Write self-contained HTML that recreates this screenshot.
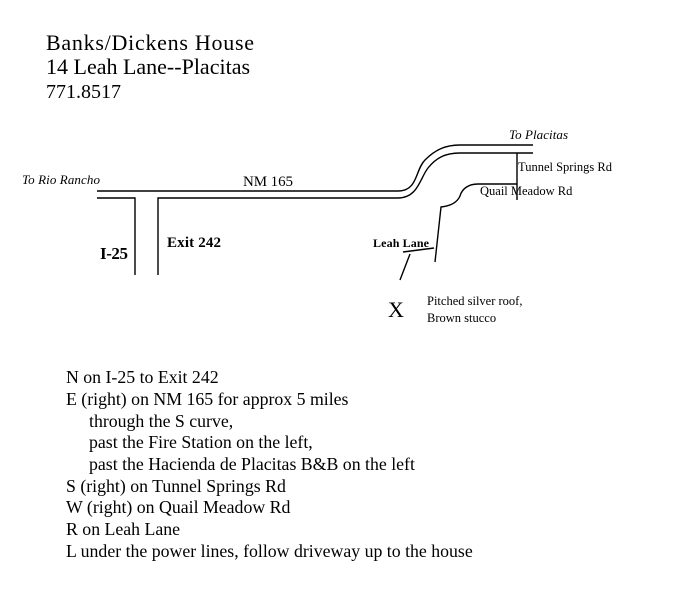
<!DOCTYPE html>
<html><head><meta charset="utf-8"><style>
html,body{margin:0;padding:0;background:#fff;width:687px;height:609px;overflow:hidden}
svg text{font-family:"Liberation Serif",serif;fill:#000}
</style></head><body>
<svg width="687" height="609" viewBox="0 0 687 609" xmlns="http://www.w3.org/2000/svg">
<g font-size="22">
<text x="46" y="50" textLength="208">Banks/Dickens House</text>
<text x="46" y="74">14 Leah Lane--Placitas</text>
<text x="46" y="98" font-size="20">771.8517</text>
</g>
<g fill="none" stroke="#000" stroke-width="1.4">
<path d="M97 191 L398 191 C418 191 415 170 425 160 C435 150 445 145 460 145 L533 145"/>
<path d="M97 198 L135 198 L135 275"/>
<path d="M158 275 L158 198 L398 198 C418 198 420 178 428 168 C436 158 445 153 460 153 L533 153"/>
<path d="M517 153 L517 200"/>
<path d="M517 184 L478 184 C468 184 462 189 460 196 C457 203 450 206 441 207 L435 262"/>
<path d="M403 252 L434 248"/>
<path d="M400 280 L410 254"/>
</g>
<g font-size="13" font-style="italic">
<text x="22" y="184" textLength="78">To Rio Rancho</text>
<text x="509" y="139" textLength="59">To Placitas</text>
</g>
<g font-size="13">
<text x="243" y="186" textLength="50" font-size="15">NM 165</text>
<text x="518" y="171" font-size="12.5">Tunnel Springs Rd</text>
<text x="480" y="195" font-size="12.5">Quail Meadow Rd</text>
<text x="373" y="247" textLength="56" font-weight="bold" font-size="12">Leah Lane</text>
<text x="167" y="247" textLength="54" font-size="15" font-weight="bold">Exit 242</text>
<text x="100" y="259" textLength="28" font-size="17" font-weight="bold">I-25</text>
<text x="427" y="305" font-size="12.5">Pitched silver roof,</text>
<text x="427" y="322" font-size="12.5">Brown stucco</text>
</g>
<text x="388" y="317" font-size="22" textLength="19">X</text>
<g font-size="17.8">
<text x="66" y="383">N on I-25 to Exit 242</text>
<text x="66" y="405">E (right) on NM 165 for approx 5 miles</text>
<text x="89" y="427">through the S curve,</text>
<text x="89" y="448">past the Fire Station on the left,</text>
<text x="89" y="470">past the Hacienda de Placitas B&amp;B on the left</text>
<text x="66" y="492">S (right) on Tunnel Springs Rd</text>
<text x="66" y="513">W (right) on Quail Meadow Rd</text>
<text x="66" y="535">R on Leah Lane</text>
<text x="66" y="557">L under the power lines, follow driveway up to the house</text>
</g>
</svg>
</body></html>
